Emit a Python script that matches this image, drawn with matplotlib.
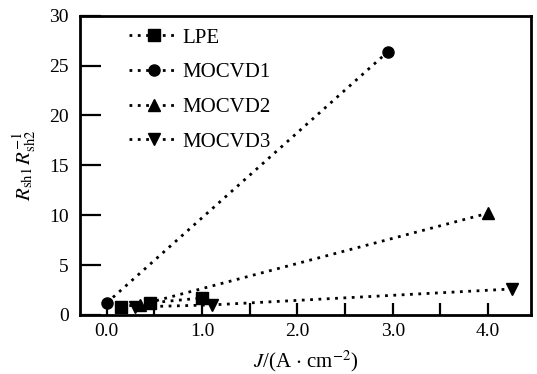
import matplotlib
matplotlib.use('Agg')
import matplotlib.pyplot as plt

plt.rcParams['font.family'] = ['Liberation Serif', 'DejaVu Serif']
plt.rcParams['mathtext.fontset'] = 'stix'

lpe_x = [0.15, 0.45, 1.0]
lpe_y = [0.8, 1.2, 1.7]
mocvd1_x = [0.0, 2.95]
mocvd1_y = [1.2, 26.4]
mocvd2_x = [0.35, 4.0]
mocvd2_y = [1.0, 10.2]
mocvd3_x = [0.3, 1.1, 4.25]
mocvd3_y = [0.8, 1.0, 2.6]

series = [
    ('LPE', lpe_x, lpe_y, 's'),
    ('MOCVD1', mocvd1_x, mocvd1_y, 'o'),
    ('MOCVD2', mocvd2_x, mocvd2_y, '^'),
    ('MOCVD3', mocvd3_x, mocvd3_y, 'v'),
]

fig = plt.figure(figsize=(5.37, 3.74), dpi=100)
ax = fig.add_axes([0.149, 0.158, 0.840, 0.800])

for name, xs, ys, m in series:
    ax.plot(xs, ys, color='black', linestyle=(0, (1, 2.0)), linewidth=2.0,
            marker=m, markersize=8, label=name)

ax.set_xlim(-0.28, 4.45)
ax.set_ylim(0, 30)
ax.set_xticks([0, 0.5, 1.0, 1.5, 2.0, 2.5, 3.0, 3.5, 4.0])
ax.set_xticklabels(['0.0', '', '1.0', '', '2.0', '', '3.0', '', '4.0'])
ax.set_yticks([0, 5, 10, 15, 20, 25, 30])
ax.tick_params(axis='both', direction='in', labelsize=14, width=1.6)
ax.tick_params(axis='y', length=15, pad=8)
ax.tick_params(axis='x', length=9, pad=6)
for s in ax.spines.values():
    s.set_linewidth(2.0)

ax.set_xlabel(r'$J$/(A $\cdot$ cm$^{-2}$)', fontsize=15, labelpad=6)
ax.set_ylabel(r'$R_{\rm sh1}\,R_{\rm sh2}^{-1}$', fontsize=15, labelpad=8)

ax.legend(loc='upper left', frameon=False, fontsize=15, handlelength=2.4,
          labelspacing=0.72, borderaxespad=0.2, bbox_to_anchor=(0.08, 1.0),
          handletextpad=0.2)

fig.savefig('out.png', dpi=100)
